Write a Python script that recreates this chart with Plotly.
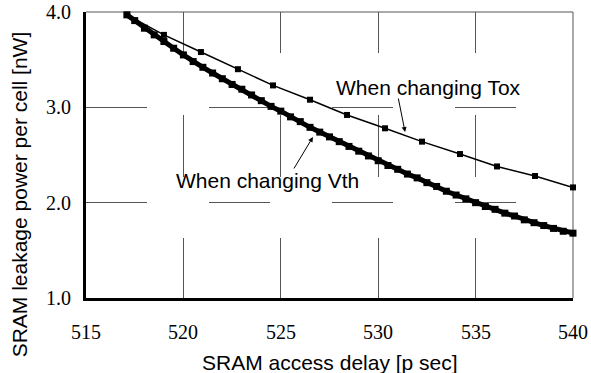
import plotly.graph_objects as go

# ---- data ----
vth_delay = [517.1, 517.5, 518.0, 518.5, 519.0, 519.5, 520.0, 520.5, 521.0, 521.5,
             522.0, 522.5, 523.0, 523.5, 524.0, 524.5, 525.0, 525.5, 526.0, 526.5,
             527.0, 527.5, 528.0, 528.5, 529.0, 529.5, 530.0, 530.5, 531.0, 531.5,
             532.0, 532.5, 533.0, 533.5, 534.0, 534.5, 535.0, 535.5, 536.0, 536.5,
             537.0, 537.5, 538.0, 538.5, 539.0, 539.5, 540.0]
vth_power = [3.97, 3.91, 3.83, 3.76, 3.69, 3.62, 3.55, 3.48, 3.42, 3.36,
             3.30, 3.24, 3.19, 3.13, 3.07, 3.01, 2.96, 2.90, 2.85, 2.79,
             2.74, 2.69, 2.64, 2.59, 2.54, 2.49, 2.44, 2.39, 2.35, 2.30,
             2.26, 2.21, 2.17, 2.12, 2.08, 2.04, 2.00, 1.96, 1.93, 1.89,
             1.86, 1.82, 1.79, 1.76, 1.73, 1.70, 1.68]

tox_delay = [517.1, 519.0, 520.9, 522.8, 524.6, 526.5, 528.4, 530.35, 532.25,
             534.2, 536.1, 538.05, 540.0]
tox_power = [3.97, 3.76, 3.58, 3.40, 3.23, 3.08, 2.92, 2.78, 2.64,
             2.51, 2.38, 2.28, 2.16]

x_ticks = [515, 520, 525, 530, 535, 540]
y_ticks = [1.0, 2.0, 3.0, 4.0]
x_tick_labels = ["515", "520", "525", "530", "535", "540"]
y_tick_labels = ["1.0", "2.0", "3.0", "4.0"]

x_title = "SRAM access delay [p sec]"
y_title = "SRAM leakage power per cell [nW]"
label_tox = "When changing Tox"
label_vth = "When changing Vth"

serif = "Liberation Serif"
sans = "Liberation Sans"

fig = go.Figure()

fig.add_trace(go.Scatter(
    x=tox_delay, y=tox_power, mode="lines+markers",
    line=dict(color="black", width=1.5),
    marker=dict(symbol="square", size=6, color="black"),
    cliponaxis=False, showlegend=False))

fig.add_trace(go.Scatter(
    x=vth_delay, y=vth_power, mode="lines+markers",
    line=dict(color="black", width=5),
    marker=dict(symbol="square", size=7, color="black"),
    cliponaxis=False, showlegend=False))

fig.update_layout(
    width=591, height=373,
    margin=dict(l=86, r=18, t=12, b=75, pad=0, autoexpand=False),
    paper_bgcolor="white", plot_bgcolor="white",
    font=dict(family=serif, size=20, color="black"),
    showlegend=False,
    xaxis=dict(
        range=[515, 540], tickmode="array", tickvals=x_ticks,
        showticklabels=False,
        showgrid=True, gridcolor="#555555", gridwidth=1,
        griddash="41px,62px,62px,61px,60px,62px",
        showline=True, linecolor="black", linewidth=2.5,
        ticks="", zeroline=False, fixedrange=True, automargin=False),
    yaxis=dict(
        range=[1, 4], tickmode="array", tickvals=y_ticks,
        showticklabels=False,
        showgrid=True, gridcolor="#555555", gridwidth=1,
        griddash="61px,62px",
        showline=True, linecolor="black", linewidth=2.5,
        ticks="", zeroline=False, fixedrange=True, automargin=False),
)

# thin top/right frame
fig.add_shape(type="line", xref="x domain", yref="y domain", x0=0, x1=1, y0=1, y1=1,
              line=dict(color="#555555", width=1), layer="below")
fig.add_shape(type="line", xref="x domain", yref="y domain", x0=1, x1=1, y0=0, y1=1,
              line=dict(color="#555555", width=1), layer="below")

ann = []
tick_font = dict(family=serif, size=20, color="black")
for v, t in zip(x_ticks, x_tick_labels):
    ann.append(dict(text=t, xref="x", yref="paper", x=v, y=-0.118,
                    xanchor="center", yanchor="middle", showarrow=False, font=tick_font))
for v, t in zip(y_ticks, y_tick_labels):
    ann.append(dict(text=t, xref="paper", yref="y", x=-0.027, y=v,
                    xanchor="right", yanchor="middle", showarrow=False, font=tick_font))

ann.append(dict(text=x_title, xref="paper", yref="paper", x=0.5, y=-0.225,
                xanchor="center", yanchor="middle", showarrow=False,
                font=dict(family=sans, size=21, color="black")))
ann.append(dict(text=y_title, xref="paper", yref="paper", x=-0.1366, y=0.364,
                xanchor="center", yanchor="middle", showarrow=False, textangle=-90,
                font=dict(family=sans, size=21, color="black")))
ann.append(dict(text=label_tox, xref="x", yref="y", x=527.75, y=3.203,
                xanchor="left", yanchor="middle", showarrow=False,
                font=dict(family=sans, size=21, color="black")))
ann.append(dict(text=label_vth, xref="x", yref="y", x=519.5, y=2.233,
                xanchor="left", yanchor="middle", showarrow=False,
                font=dict(family=sans, size=21, color="black")))
# arrows
ann.append(dict(text="", xref="x", yref="y", x=531.38, y=2.741,
                axref="x", ayref="y", ax=531.02, ay=3.108,
                showarrow=True, arrowhead=2, arrowsize=1, arrowwidth=1, arrowcolor="black",
                standoff=0, startstandoff=0))
ann.append(dict(text="", xref="x", yref="y", x=526.65, y=2.689,
                axref="x", ayref="y", ax=525.63, ay=2.343,
                showarrow=True, arrowhead=2, arrowsize=1, arrowwidth=1, arrowcolor="black",
                standoff=0, startstandoff=0))
fig.update_layout(annotations=ann)

fig.write_html("out.html", config={"displayModeBar": False})
